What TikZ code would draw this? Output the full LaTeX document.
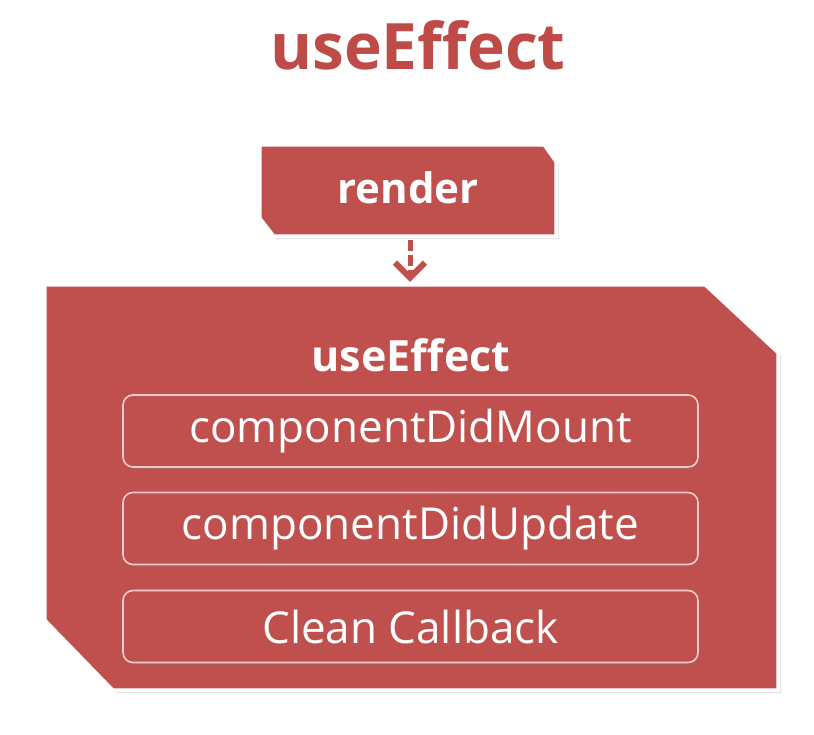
\documentclass[tikz,border=0pt]{standalone}
\usepackage{fontspec}
\setmainfont{Open Sans}
\usetikzlibrary{calc,shadows,arrows.meta}
\definecolor{boxred}{HTML}{C0504D}
\definecolor{titlered}{HTML}{BE4B48}
\definecolor{rimpink}{HTML}{F6CACA}
\tikzset{
  frame/.style={rectangle, inner sep=0pt, draw=none},
  redpoly/.style={fill=boxred, draw=white, line width=3.5pt, line join=miter,
    drop shadow={shadow xshift=3pt, shadow yshift=-3pt, opacity=0.2}},
  innerbox/.style={rectangle, rounded corners=10pt, fill=boxred, draw=rimpink, line width=1.6pt,
    minimum width=575pt, minimum height=72pt, inner sep=0pt, text=white, font=\fontsize{44}{48}\selectfont,
    drop shadow={shadow xshift=1pt, shadow yshift=-2pt, opacity=0.3}},
  boldlabel/.style={text=white, font=\bfseries\fontsize{42}{46}\selectfont},
  flowarrow/.style={draw=boxred, line width=5pt, dash pattern=on 11pt off 4pt,
    -{Straight Barb[length=15pt,width=30pt,line width=6pt]}}
}
\begin{document}
\begin{tikzpicture}[x=1pt,y=-1pt]
\useasboundingbox (0,0) rectangle (814,734);
\node[text=titlered, font=\bfseries\fontsize{64}{68}\selectfont] (title) at (418,45) {useEffect};
% render box
\node[frame, minimum width=296pt, minimum height=91pt] (render) at (408,190.5) {};
\path[redpoly] (render.north west) -- ($(render.north east)+(-12,0)$) -- ($(render.north east)+(0,17)$)
  -- (render.south east) -- ($(render.south west)+(14,0)$) -- ($(render.south west)+(0,-18)$) -- cycle;
\node[boldlabel] (rendertext) at (408,188) {render};
% useEffect box
\node[frame, minimum width=733pt, minimum height=405pt] (effect) at (411.5,487.5) {};
\path[redpoly] (effect.north west) -- ($(effect.north east)+(-73,0)$) -- ($(effect.north east)+(0,68)$)
  -- (effect.south east) -- ($(effect.south west)+(68,0)$) -- ($(effect.south west)+(0,-70)$) -- cycle;
\node[boldlabel, font=\bfseries\fontsize{43}{47}\selectfont] (effecttext) at (411,355) {useEffect};
\node[innerbox] (mount) at (410.5,431) {componentDidMount};
\node[innerbox] (update) at (410.5,528.5) {componentDidUpdate};
\node[innerbox] (clean) at (410.5,626.5) {Clean Callback};
\draw[flowarrow] ($(render.south)+(2,4)$) -- ($(render.south |- effect.north)+(2,-3)$);
\end{tikzpicture}
\end{document}
